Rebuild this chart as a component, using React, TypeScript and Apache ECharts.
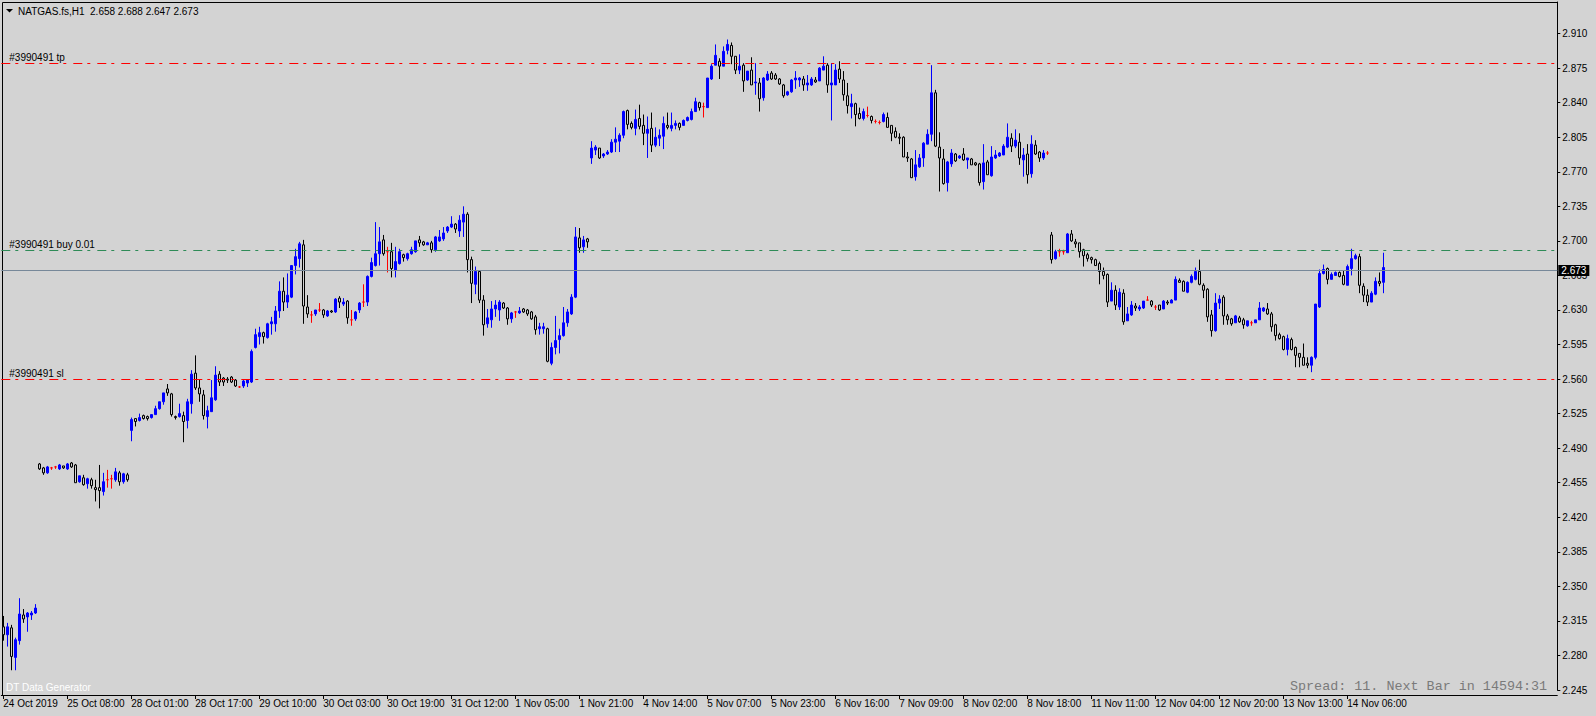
import React, { useEffect, useRef } from "react";
import * as echarts from "echarts";

// [open, high, low, close] per hourly bar, grouped by trading day
type Bar = [number, number, number, number];

const oct24: Bar[] = [
  [2.309, 2.320, 2.295, 2.301], [2.301, 2.313, 2.289, 2.309], [2.308, 2.311, 2.265, 2.279],
  [2.278, 2.298, 2.265, 2.296], [2.295, 2.338, 2.291, 2.322], [2.321, 2.327, 2.313, 2.317],
  [2.319, 2.324, 2.304, 2.323], [2.321, 2.325, 2.316, 2.323], [2.323, 2.332, 2.322, 2.328],
];
const oct25: Bar[] = [
  [2.474, 2.475, 2.468, 2.469], [2.470, 2.471, 2.463, 2.465], [2.465, 2.472, 2.464, 2.471],
  [2.470, 2.471, 2.468, 2.470], [2.471, 2.472, 2.469, 2.471], [2.469, 2.474, 2.468, 2.473],
  [2.472, 2.472, 2.469, 2.470], [2.469, 2.475, 2.468, 2.474], [2.475, 2.476, 2.470, 2.471],
  [2.473, 2.474, 2.455, 2.455], [2.456, 2.462, 2.455, 2.462], [2.460, 2.463, 2.452, 2.453],
  [2.454, 2.460, 2.449, 2.459], [2.458, 2.460, 2.449, 2.452], [2.450, 2.458, 2.436, 2.448],
  [2.450, 2.473, 2.429, 2.447], [2.446, 2.465, 2.442, 2.456], [2.458, 2.468, 2.450, 2.458],
  [2.459, 2.463, 2.449, 2.459], [2.458, 2.470, 2.456, 2.466], [2.465, 2.467, 2.452, 2.456],
  [2.456, 2.465, 2.454, 2.464], [2.463, 2.465, 2.456, 2.458],
];
const oct28: Bar[] = [
  [2.508, 2.521, 2.497, 2.519], [2.520, 2.520, 2.512, 2.517], [2.518, 2.525, 2.517, 2.521],
  [2.523, 2.524, 2.519, 2.520], [2.522, 2.523, 2.518, 2.520], [2.521, 2.524, 2.520, 2.524],
  [2.524, 2.533, 2.524, 2.530], [2.530, 2.537, 2.529, 2.537], [2.537, 2.546, 2.534, 2.546],
  [2.550, 2.555, 2.543, 2.546], [2.545, 2.546, 2.522, 2.524], [2.522, 2.523, 2.519, 2.521],
  [2.522, 2.535, 2.521, 2.525], [2.523, 2.527, 2.496, 2.517], [2.518, 2.540, 2.510, 2.537],
  [2.535, 2.569, 2.525, 2.565], [2.566, 2.584, 2.549, 2.551], [2.551, 2.560, 2.537, 2.545],
  [2.544, 2.549, 2.519, 2.523], [2.522, 2.533, 2.510, 2.528], [2.527, 2.559, 2.527, 2.541],
  [2.539, 2.573, 2.538, 2.564], [2.565, 2.568, 2.553, 2.557],
];
const oct29: Bar[] = [
  [2.561, 2.562, 2.553, 2.557], [2.560, 2.562, 2.556, 2.559], [2.562, 2.563, 2.556, 2.557],
  [2.559, 2.560, 2.552, 2.553], [2.552, 2.553, 2.551, 2.552], [2.553, 2.559, 2.551, 2.558],
  [2.556, 2.560, 2.552, 2.559], [2.557, 2.590, 2.556, 2.588], [2.592, 2.611, 2.591, 2.605],
  [2.603, 2.613, 2.595, 2.607], [2.607, 2.608, 2.596, 2.603], [2.602, 2.617, 2.601, 2.616],
  [2.616, 2.623, 2.605, 2.618], [2.616, 2.634, 2.608, 2.629], [2.629, 2.659, 2.622, 2.649],
  [2.649, 2.663, 2.629, 2.638], [2.638, 2.667, 2.632, 2.645], [2.643, 2.675, 2.642, 2.675],
  [2.675, 2.692, 2.666, 2.684], [2.682, 2.699, 2.673, 2.697], [2.696, 2.701, 2.616, 2.634],
  [2.633, 2.645, 2.622, 2.626], [2.625, 2.629, 2.617, 2.625],
];
const oct30: Bar[] = [
  [2.626, 2.630, 2.624, 2.630], [2.630, 2.637, 2.628, 2.630], [2.630, 2.631, 2.622, 2.625],
  [2.624, 2.630, 2.623, 2.629], [2.629, 2.630, 2.627, 2.628], [2.628, 2.642, 2.627, 2.641],
  [2.642, 2.644, 2.632, 2.638], [2.636, 2.642, 2.634, 2.638], [2.639, 2.640, 2.616, 2.622],
  [2.620, 2.630, 2.614, 2.620], [2.621, 2.629, 2.619, 2.628], [2.630, 2.638, 2.627, 2.637],
  [2.638, 2.656, 2.633, 2.638], [2.638, 2.665, 2.634, 2.664], [2.664, 2.683, 2.663, 2.678],
  [2.675, 2.719, 2.674, 2.687], [2.687, 2.714, 2.675, 2.699], [2.701, 2.706, 2.685, 2.687],
  [2.689, 2.694, 2.668, 2.689], [2.689, 2.698, 2.663, 2.672], [2.670, 2.694, 2.663, 2.679],
  [2.677, 2.692, 2.676, 2.689], [2.686, 2.687, 2.679, 2.683],
];
const oct31: Bar[] = [
  [2.682, 2.688, 2.680, 2.687], [2.687, 2.694, 2.686, 2.691], [2.689, 2.700, 2.688, 2.700],
  [2.701, 2.705, 2.694, 2.698], [2.699, 2.700, 2.695, 2.696], [2.696, 2.699, 2.696, 2.698],
  [2.698, 2.700, 2.688, 2.691], [2.691, 2.705, 2.689, 2.704], [2.700, 2.711, 2.699, 2.704],
  [2.702, 2.714, 2.700, 2.708], [2.710, 2.715, 2.708, 2.714], [2.714, 2.725, 2.713, 2.717],
  [2.717, 2.718, 2.708, 2.712], [2.710, 2.726, 2.704, 2.721], [2.719, 2.735, 2.704, 2.727],
  [2.727, 2.729, 2.668, 2.681], [2.681, 2.684, 2.637, 2.657], [2.656, 2.674, 2.646, 2.669],
  [2.669, 2.670, 2.637, 2.640], [2.640, 2.645, 2.604, 2.615], [2.616, 2.631, 2.612, 2.622],
  [2.620, 2.639, 2.612, 2.631], [2.631, 2.640, 2.623, 2.635],
];
const nov1: Bar[] = [
  [2.630, 2.640, 2.619, 2.638], [2.637, 2.638, 2.631, 2.632], [2.632, 2.633, 2.615, 2.621],
  [2.621, 2.628, 2.617, 2.627], [2.628, 2.629, 2.622, 2.628], [2.627, 2.633, 2.626, 2.629],
  [2.631, 2.632, 2.627, 2.628], [2.630, 2.631, 2.624, 2.626], [2.628, 2.629, 2.620, 2.621],
  [2.623, 2.625, 2.605, 2.610], [2.611, 2.617, 2.605, 2.613], [2.611, 2.617, 2.606, 2.613],
  [2.611, 2.612, 2.577, 2.578], [2.576, 2.597, 2.574, 2.592], [2.592, 2.624, 2.585, 2.599],
  [2.600, 2.611, 2.586, 2.604], [2.604, 2.633, 2.603, 2.617], [2.617, 2.631, 2.613, 2.628],
  [2.626, 2.646, 2.625, 2.643], [2.643, 2.714, 2.642, 2.704], [2.703, 2.713, 2.688, 2.693],
  [2.694, 2.705, 2.688, 2.701], [2.702, 2.703, 2.693, 2.699],
];
const nov4: Bar[] = [
  [2.784, 2.801, 2.778, 2.794], [2.792, 2.797, 2.787, 2.795], [2.794, 2.794, 2.783, 2.784],
  [2.786, 2.789, 2.784, 2.788], [2.788, 2.792, 2.787, 2.790], [2.790, 2.803, 2.789, 2.800],
  [2.800, 2.815, 2.790, 2.803], [2.801, 2.809, 2.790, 2.807], [2.807, 2.832, 2.804, 2.831],
  [2.832, 2.833, 2.813, 2.818], [2.819, 2.821, 2.813, 2.815], [2.814, 2.833, 2.807, 2.823],
  [2.824, 2.838, 2.813, 2.816], [2.817, 2.828, 2.797, 2.809], [2.809, 2.826, 2.784, 2.813],
  [2.814, 2.830, 2.790, 2.797], [2.797, 2.815, 2.795, 2.805], [2.804, 2.813, 2.796, 2.807],
  [2.806, 2.826, 2.793, 2.819], [2.817, 2.830, 2.813, 2.815], [2.814, 2.830, 2.811, 2.817],
  [2.817, 2.822, 2.813, 2.819], [2.819, 2.820, 2.812, 2.815],
];
const nov5: Bar[] = [
  [2.817, 2.823, 2.817, 2.822], [2.822, 2.826, 2.821, 2.825], [2.823, 2.834, 2.822, 2.831],
  [2.831, 2.845, 2.831, 2.841], [2.840, 2.841, 2.832, 2.835], [2.836, 2.840, 2.825, 2.836],
  [2.835, 2.865, 2.835, 2.865], [2.864, 2.879, 2.863, 2.877], [2.878, 2.899, 2.878, 2.888],
  [2.882, 2.885, 2.864, 2.877], [2.877, 2.897, 2.877, 2.892], [2.893, 2.904, 2.889, 2.899],
  [2.898, 2.901, 2.879, 2.887], [2.887, 2.887, 2.869, 2.873], [2.873, 2.889, 2.869, 2.877],
  [2.878, 2.880, 2.851, 2.862], [2.863, 2.872, 2.862, 2.872], [2.873, 2.886, 2.858, 2.858],
  [2.860, 2.880, 2.848, 2.861], [2.860, 2.865, 2.831, 2.844], [2.845, 2.866, 2.842, 2.865],
  [2.863, 2.872, 2.862, 2.869], [2.870, 2.872, 2.863, 2.864],
];
const nov6: Bar[] = [
  [2.868, 2.870, 2.863, 2.864], [2.864, 2.865, 2.858, 2.859], [2.858, 2.859, 2.845, 2.847],
  [2.848, 2.852, 2.847, 2.851], [2.851, 2.864, 2.850, 2.863], [2.863, 2.872, 2.854, 2.865],
  [2.863, 2.866, 2.856, 2.865], [2.864, 2.867, 2.852, 2.858], [2.858, 2.868, 2.852, 2.860],
  [2.858, 2.866, 2.857, 2.864], [2.863, 2.866, 2.860, 2.861], [2.862, 2.876, 2.862, 2.875],
  [2.873, 2.887, 2.873, 2.877], [2.878, 2.880, 2.850, 2.858], [2.858, 2.880, 2.822, 2.860],
  [2.858, 2.879, 2.858, 2.873], [2.874, 2.882, 2.860, 2.864], [2.863, 2.872, 2.842, 2.848],
  [2.847, 2.860, 2.829, 2.837], [2.836, 2.849, 2.824, 2.839], [2.839, 2.840, 2.816, 2.828],
  [2.829, 2.835, 2.823, 2.824], [2.824, 2.834, 2.822, 2.831],
];
const nov7: Bar[] = [
  [2.827, 2.836, 2.825, 2.827], [2.826, 2.827, 2.819, 2.822], [2.821, 2.823, 2.819, 2.821],
  [2.820, 2.822, 2.818, 2.820], [2.821, 2.830, 2.820, 2.828], [2.825, 2.830, 2.815, 2.815],
  [2.817, 2.817, 2.801, 2.809], [2.811, 2.815, 2.804, 2.805], [2.805, 2.809, 2.798, 2.804],
  [2.805, 2.806, 2.785, 2.785], [2.785, 2.790, 2.780, 2.784], [2.783, 2.784, 2.764, 2.764],
  [2.765, 2.792, 2.761, 2.777], [2.775, 2.788, 2.774, 2.784], [2.784, 2.800, 2.775, 2.799],
  [2.798, 2.813, 2.798, 2.808], [2.808, 2.878, 2.801, 2.850], [2.850, 2.853, 2.795, 2.796],
  [2.795, 2.810, 2.750, 2.784], [2.783, 2.793, 2.757, 2.758], [2.759, 2.781, 2.750, 2.780],
  [2.778, 2.793, 2.775, 2.789], [2.788, 2.789, 2.780, 2.781],
];
const nov8: Bar[] = [
  [2.784, 2.787, 2.783, 2.786], [2.788, 2.794, 2.781, 2.782], [2.782, 2.784, 2.773, 2.784],
  [2.783, 2.784, 2.777, 2.777], [2.779, 2.780, 2.776, 2.777], [2.778, 2.779, 2.756, 2.759],
  [2.760, 2.798, 2.752, 2.779], [2.780, 2.782, 2.767, 2.767], [2.766, 2.796, 2.765, 2.785],
  [2.784, 2.792, 2.783, 2.787], [2.786, 2.790, 2.785, 2.789], [2.787, 2.798, 2.787, 2.796],
  [2.795, 2.819, 2.794, 2.805], [2.804, 2.809, 2.790, 2.796], [2.796, 2.813, 2.794, 2.802],
  [2.800, 2.809, 2.777, 2.784], [2.782, 2.794, 2.765, 2.787], [2.788, 2.798, 2.758, 2.767],
  [2.768, 2.807, 2.764, 2.798], [2.797, 2.802, 2.787, 2.788], [2.790, 2.791, 2.780, 2.784],
  [2.784, 2.792, 2.782, 2.789], [2.789, 2.791, 2.787, 2.789],
];
const nov11: Bar[] = [
  [2.706, 2.709, 2.677, 2.681], [2.682, 2.691, 2.681, 2.689], [2.689, 2.692, 2.684, 2.689],
  [2.689, 2.691, 2.686, 2.689], [2.688, 2.708, 2.688, 2.707], [2.707, 2.711, 2.699, 2.700],
  [2.699, 2.702, 2.693, 2.697], [2.698, 2.698, 2.683, 2.689], [2.691, 2.692, 2.674, 2.685],
  [2.686, 2.688, 2.679, 2.682], [2.683, 2.684, 2.677, 2.681], [2.681, 2.682, 2.675, 2.675],
  [2.677, 2.679, 2.656, 2.669], [2.669, 2.673, 2.661, 2.665], [2.666, 2.667, 2.633, 2.638],
  [2.639, 2.658, 2.639, 2.650], [2.650, 2.655, 2.630, 2.635], [2.633, 2.652, 2.630, 2.648],
  [2.647, 2.651, 2.615, 2.618], [2.619, 2.633, 2.619, 2.626], [2.625, 2.639, 2.624, 2.635],
  [2.634, 2.637, 2.629, 2.632], [2.631, 2.635, 2.629, 2.633],
];
const nov12: Bar[] = [
  [2.632, 2.639, 2.631, 2.639], [2.640, 2.644, 2.640, 2.640], [2.639, 2.640, 2.633, 2.635],
  [2.633, 2.635, 2.630, 2.633], [2.635, 2.635, 2.629, 2.630], [2.631, 2.640, 2.631, 2.639],
  [2.638, 2.640, 2.635, 2.637], [2.637, 2.641, 2.637, 2.640], [2.640, 2.664, 2.640, 2.661],
  [2.660, 2.662, 2.658, 2.658], [2.659, 2.660, 2.649, 2.649], [2.648, 2.659, 2.647, 2.658],
  [2.658, 2.666, 2.657, 2.664], [2.661, 2.673, 2.660, 2.669], [2.669, 2.681, 2.655, 2.656],
  [2.655, 2.657, 2.642, 2.650], [2.651, 2.652, 2.618, 2.623], [2.625, 2.630, 2.603, 2.609],
  [2.609, 2.647, 2.608, 2.637], [2.637, 2.645, 2.631, 2.641], [2.643, 2.645, 2.615, 2.624],
  [2.624, 2.626, 2.615, 2.620], [2.621, 2.622, 2.614, 2.616],
];
const nov13: Bar[] = [
  [2.617, 2.625, 2.617, 2.624], [2.622, 2.624, 2.617, 2.618], [2.620, 2.622, 2.611, 2.615],
  [2.614, 2.619, 2.613, 2.619], [2.617, 2.619, 2.614, 2.617], [2.617, 2.620, 2.617, 2.620],
  [2.620, 2.638, 2.620, 2.632], [2.629, 2.633, 2.628, 2.632], [2.631, 2.637, 2.625, 2.626],
  [2.626, 2.628, 2.608, 2.613], [2.615, 2.616, 2.599, 2.604], [2.605, 2.607, 2.600, 2.601],
  [2.603, 2.604, 2.589, 2.590], [2.590, 2.605, 2.584, 2.601], [2.600, 2.602, 2.589, 2.590],
  [2.592, 2.593, 2.572, 2.584], [2.586, 2.586, 2.572, 2.582], [2.582, 2.596, 2.574, 2.574],
  [2.576, 2.582, 2.571, 2.574], [2.574, 2.583, 2.567, 2.582], [2.582, 2.636, 2.580, 2.636],
  [2.633, 2.671, 2.632, 2.667], [2.667, 2.676, 2.666, 2.671],
];
const nov14: Bar[] = [
  [2.672, 2.673, 2.656, 2.661], [2.661, 2.668, 2.661, 2.666], [2.665, 2.669, 2.665, 2.668],
  [2.668, 2.669, 2.663, 2.664], [2.665, 2.670, 2.655, 2.656], [2.655, 2.676, 2.655, 2.674],
  [2.672, 2.692, 2.665, 2.682], [2.682, 2.687, 2.681, 2.685], [2.684, 2.687, 2.647, 2.655],
  [2.654, 2.657, 2.638, 2.645], [2.645, 2.651, 2.634, 2.638], [2.638, 2.649, 2.638, 2.647],
  [2.646, 2.663, 2.645, 2.659], [2.659, 2.668, 2.654, 2.657], [2.658, 2.688, 2.647, 2.673],
];

const days: Bar[][] = [oct24, oct25, oct28, oct29, oct30, oct31, nov1, nov4, nov5, nov6, nov7, nov8, nov11, nov12, nov13, nov14];

const tickLabels = [
  "24 Oct 2019", "25 Oct 08:00", "28 Oct 01:00", "28 Oct 17:00", "29 Oct 10:00", "30 Oct 03:00",
  "30 Oct 19:00", "31 Oct 12:00", "1 Nov 05:00", "1 Nov 21:00", "4 Nov 14:00", "5 Nov 07:00",
  "5 Nov 23:00", "6 Nov 16:00", "7 Nov 09:00", "8 Nov 02:00", "8 Nov 18:00", "11 Nov 11:00",
  "12 Nov 04:00", "12 Nov 20:00", "13 Nov 13:00", "14 Nov 06:00",
];
const labelStep = 16;
const slotCount = 389;

const priceMin = 2.245;
const priceMax = 2.942;
const priceStep = 0.035;

const takeProfit = 2.88;
const stopLoss = 2.56;
const entryPrice = 2.686;
const orderTag = "#3990491";
const lotSize = "0.01";
const symbolName = "NATGAS.fs,H1";
const spreadText = "Spread: 11. Next Bar in 14594:31";
const generatorText = "DT Data Generator";

const BG = "#d3d3d3";
const BULL = "#0000ff";
const DOJI = "#ff0000";
const FONT = '"Liberation Sans", Arial, sans-serif';

export default function App() {
  const ref = useRef<HTMLDivElement>(null);

  useEffect(() => {
    document.body.style.margin = "0";
    document.body.style.background = BG;
    const chart = echarts.init(ref.current!, null, { renderer: "svg" });

    const bars: Bar[] = ([] as Bar[]).concat(...days);
    const last = bars[bars.length - 1];
    const lastClose = last[3];
    const categories = Array.from({ length: slotCount }, (_, i) => String(i));
    const isLabelIdx = (i: number) => i % labelStep === 0 && i / labelStep < tickLabels.length;
    const dash = [9, 5, 3, 7];

    const orderLabel = (text: string) => ({
      show: true,
      position: "insideStartTop",
      formatter: text,
      color: "#000",
      fontSize: 10,
      fontFamily: FONT,
      distance: [8, 1],
    });

    const data = bars.map(([o, h, l, c]) =>
      o === c
        ? { value: [o, c, l, h], itemStyle: { color: DOJI, color0: DOJI, borderColor: DOJI, borderColor0: DOJI } }
        : [o, c, l, h]
    );

    chart.setOption({
      animation: false,
      backgroundColor: BG,
      grid: { left: 1.3, right: 38.7, top: 2, bottom: 26, containLabel: false },
      xAxis: {
        type: "category",
        data: categories,
        boundaryGap: true,
        offset: 5,
        axisLine: { show: true, lineStyle: { color: "#000", width: 1 } },
        axisTick: {
          show: true,
          alignWithLabel: true,
          interval: (i: number) => isLabelIdx(i),
          length: 4,
          lineStyle: { color: "#000" },
        },
        axisLabel: {
          interval: (i: number) => isLabelIdx(i),
          formatter: (_v: string, i: number) => (isLabelIdx(i) ? tickLabels[i / labelStep] : ""),
          color: "#000",
          fontSize: 10,
          fontFamily: FONT,
          align: "left",
          margin: 3,
          hideOverlap: false,
        },
        splitLine: { show: false },
      },
      yAxis: {
        type: "value",
        position: "right",
        min: priceMin,
        max: priceMax,
        interval: priceStep,
        axisLine: { show: true, lineStyle: { color: "#000", width: 1 } },
        axisTick: { show: true, length: 3, lineStyle: { color: "#000" } },
        axisLabel: {
          color: "#000",
          fontSize: 10,
          fontFamily: FONT,
          margin: 5,
          showMaxLabel: false,
          showMinLabel: true,
          formatter: (v: number) => v.toFixed(3),
        },
        splitLine: { show: false },
      },
      series: [
        {
          type: "candlestick",
          data,
          barWidth: 2,
          itemStyle: {
            color: BULL,
            color0: BG,
            borderColor: BULL,
            borderColor0: "#000000",
            borderColorDoji: DOJI,
            borderWidth: 1,
          },
          markLine: {
            silent: true,
            symbol: ["none", "none"],
            animation: false,
            data: [
              { yAxis: takeProfit, lineStyle: { color: "#ff0000", type: dash, width: 1 }, label: orderLabel(`${orderTag} tp`) },
              { yAxis: entryPrice, lineStyle: { color: "#2e8b57", type: dash, width: 1 }, label: orderLabel(`${orderTag} buy ${lotSize}`) },
              { yAxis: stopLoss, lineStyle: { color: "#ff0000", type: dash, width: 1 }, label: orderLabel(`${orderTag} sl`) },
              {
                yAxis: lastClose,
                lineStyle: { color: "#778899", type: "solid", width: 1 },
                label: {
                  show: true,
                  position: "end",
                  formatter: lastClose.toFixed(3),
                  color: "#fff",
                  backgroundColor: "#000",
                  padding: [1, 3, 0, 3],
                  fontSize: 10,
                  fontFamily: FONT,
                  distance: 1,
                },
              },
            ],
          },
        },
      ],
      graphic: [
        { type: "line", shape: { x1: 2.5, y1: 2.5, x2: 2.5, y2: 695.5 }, style: { stroke: "#000", lineWidth: 1 }, silent: true },
        { type: "line", shape: { x1: 2.5, y1: 2.5, x2: 1557.5, y2: 2.5 }, style: { stroke: "#000", lineWidth: 1 }, silent: true },
        { type: "polygon", shape: { points: [[6, 9], [13, 9], [9.5, 12.5]] }, style: { fill: "#000" }, silent: true },
        {
          type: "text",
          x: 18,
          y: 11,
          style: {
            text: `${symbolName}  ${last.map((v) => v.toFixed(3)).join(" ")}`,
            fill: "#000",
            font: `10px ${FONT}`,
            verticalAlign: "middle",
          },
          silent: true,
        },
        {
          type: "text",
          x: 6,
          y: 687,
          style: { text: generatorText, fill: "#ffffff", font: `10px ${FONT}`, verticalAlign: "middle" },
          silent: true,
        },
        {
          type: "text",
          x: 1290,
          y: 686,
          style: { text: spreadText, fill: "#7a7a7a", font: `13.4px "Liberation Mono", "DejaVu Sans Mono", monospace`, verticalAlign: "middle" },
          silent: true,
        },
      ],
    });

    return () => chart.dispose();
  }, []);

  return <div ref={ref} style={{ width: 1596, height: 716 }} />;
}
